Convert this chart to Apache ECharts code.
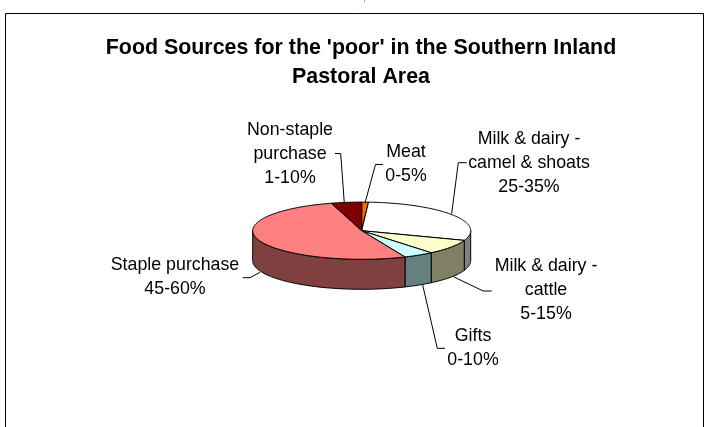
<!DOCTYPE html>
<html><head><meta charset="utf-8">
<style>html,body{margin:0;padding:0;background:#fff}#c{width:709px;height:427px}</style>
<script src="https://cdn.jsdelivr.net/npm/echarts@6/dist/echarts.min.js"></script>
</head><body><div id="c"></div>
<script>
// clockwise from 12 o'clock
var categories = ['Meat','Milk & dairy - camel & shoats','Milk & dairy - cattle','Gifts','Staple purchase','Non-staple purchase'];
var ranges = ['0-5%','25-35%','5-15%','0-10%','45-60%','1-10%'];
var values = [1, 29.5, 8.5, 4.5, 52, 4.5];
var topColors = ['#FF6600','#FFFFFF','#FFFFCC','#CCFFFF','#FF8080','#800000'];
var sideColors = ['#803300','#808080','#808066','#668080','#804040','#400000'];

var total = values.reduce(function(a,b){return a+b;},0);
var CX=361.7, CY=230.7, RX=109, RY=28.6, DEPTH=30;
var FONT='"Liberation Sans", Arial, sans-serif';

function pt(a,dy){ // a: radians clockwise from top
  return [CX+RX*Math.sin(a), CY-RY*Math.cos(a)+(dy||0)];
}
function arc(a0,a1,dy){
  var n=Math.max(2,Math.ceil((a1-a0)/0.02)), out=[];
  for(var i=0;i<=n;i++) out.push(pt(a0+(a1-a0)*i/n,dy));
  return out;
}
function renderSlice(params,api){
  var i=params.dataIndex, before=0;
  for(var k=0;k<i;k++) before+=values[k];
  var a0=before/total*Math.PI*2, a1=(before+api.value(0))/total*Math.PI*2;
  var kids=[];
  // outer wall: only the front half of the ellipse (90deg..270deg)
  var w0=Math.max(a0,Math.PI/2), w1=Math.min(a1,Math.PI*1.5);
  if(w1>w0){
    var front=arc(w0,w1,0), back=arc(w0,w1,DEPTH).reverse();
    kids.push({type:'polygon',z2:1,shape:{points:front.concat(back)},
      style:{fill:sideColors[i],stroke:'#000',lineWidth:1}});
  }
  kids.push({type:'polygon',z2:2,shape:{points:[[CX,CY]].concat(arc(a0,a1,0))},
    style:{fill:topColors[i],stroke:'#000',lineWidth:1,lineJoin:'round'}});
  return {type:'group',children:kids};
}
function label(cx,lines,y0,lh){
  return lines.map(function(t,i){
    return {type:'text',z:5,style:{text:t,x:cx,y:y0+i*lh,align:'center',verticalAlign:'middle',
      font:'17.8px '+FONT,fill:'#000'}};
  });
}
function leader(p){
  return {type:'polyline',z:4,shape:{points:p},style:{stroke:'#000',lineWidth:1,fill:null}};
}
var graphics=[
  {type:'rect',z:0,shape:{x:5.5,y:13.5,width:698,height:440},style:{fill:'#fff',stroke:'#000',lineWidth:1}},
  {type:'line',z:1,shape:{x1:364.5,y1:0,x2:364.5,y2:2},style:{stroke:'#999',lineWidth:1}},
  {type:'text',z:5,style:{text:"Food Sources for the 'poor' in the Southern Inland",x:361,y:48,align:'center',verticalAlign:'middle',font:'bold 21.4px '+FONT,fill:'#000'}},
  {type:'text',z:5,style:{text:'Pastoral Area',x:361,y:77,align:'center',verticalAlign:'middle',font:'bold 21.4px '+FONT,fill:'#000'}},
  leader([[335,153.5],[340.7,153.5],[344.3,203]]),
  leader([[383,164.5],[375.5,164.5],[365,203]]),
  leader([[466.7,162.7],[458.3,162.7],[451.7,213.5]]),
  leader([[453.3,276.7],[483.3,291],[491.7,291]]),
  leader([[422.7,285],[437.3,348.3],[445,348.3]]),
  leader([[260,272.3],[250,277.7],[242.7,277.7]])
].concat(
  label(290,['Non-staple','purchase',ranges[5]],130,24),
  label(406,['Meat',ranges[0]],152,24),
  label(529,['Milk & dairy -','camel & shoats',ranges[1]],139.3,24),
  label(546,['Milk & dairy -','cattle',ranges[2]],266,24),
  label(473,['Gifts',ranges[3]],336,24),
  label(175,['Staple purchase',ranges[4]],265,24)
);
var chart=echarts.init(document.getElementById('c'),null,{renderer:'canvas'});
chart.setOption({
  animation:false,
  backgroundColor:'#fff',
  series:[{type:'custom',coordinateSystem:'none',renderItem:renderSlice,z:3,
    data:values.map(function(v,i){return {name:categories[i],value:[v]};})}],
  graphic:graphics
});
</script></body></html>
